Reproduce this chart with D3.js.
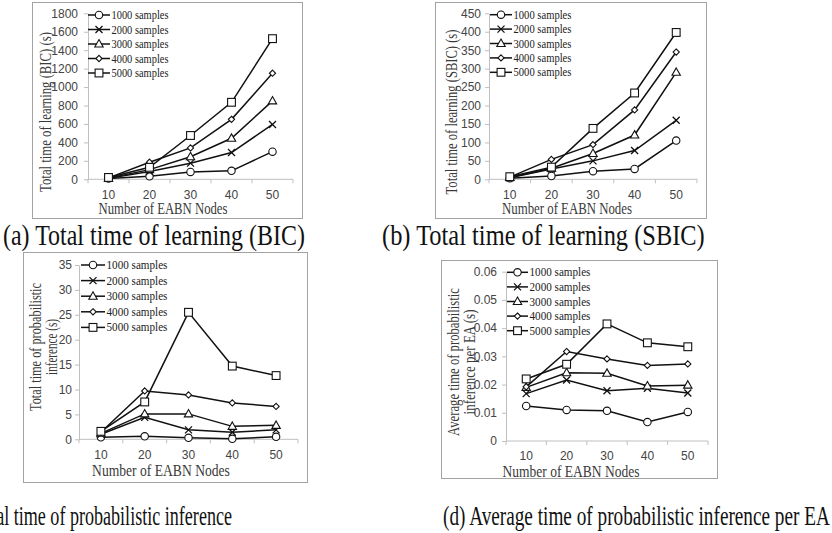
<!DOCTYPE html>
<html>
<head>
<meta charset="utf-8">
<script src="https://cdn.jsdelivr.net/npm/d3@7/dist/d3.min.js"></script>
<style>
  body { margin: 0; background: #fff; }
  svg { display: block; }
</style>
</head>
<body>
<svg id="fig" width="832" height="533"></svg>
<script>
// ---- data ----------------------------------------------------------------
const nodeCounts = [10, 20, 30, 40, 50];
const sampleLabels = ["1000 samples", "2000 samples", "3000 samples", "4000 samples", "5000 samples"];
const markerTypes = ["circle", "cross", "triangle", "diamond", "square"];

// (a) total learning time with BIC score, seconds (one row per sample size)
const bicLearning = [
  [8, 32, 80, 92, 300],
  [10, 85, 175, 290, 595],
  [12, 105, 245, 445, 850],
  [15, 185, 340, 650, 1150],
  [20, 130, 475, 835, 1525]
];
const bicTicks = [0, 200, 400, 600, 800, 1000, 1200, 1400, 1600, 1800];

// (b) total learning time with SBIC score, seconds
const sbicLearning = [
  [3, 9, 22, 28, 105],
  [4, 28, 50, 78, 160],
  [5, 30, 70, 120, 290],
  [6, 54, 94, 188, 345],
  [7, 33, 138, 234, 398]
];
const sbicTicks = [0, 50, 100, 150, 200, 250, 300, 350, 400, 450];

// (c) total probabilistic inference time, seconds
const inferenceTotal = [
  [0.4, 0.6, 0.3, 0.1, 0.5],
  [1.0, 4.4, 1.9, 1.4, 1.9],
  [1.2, 5.1, 5.1, 2.6, 2.8],
  [1.4, 9.7, 8.9, 7.3, 6.6],
  [1.6, 7.5, 25.5, 14.7, 12.8]
];
const inferenceTicks = [0, 5, 10, 15, 20, 25, 30, 35];

// (d) average probabilistic inference time per EA, seconds
const inferencePerEA = [
  [0.0124, 0.0110, 0.0107, 0.0067, 0.0103],
  [0.0168, 0.0216, 0.0178, 0.0187, 0.0170],
  [0.0190, 0.0242, 0.0240, 0.0195, 0.0198],
  [0.0192, 0.0317, 0.0291, 0.0268, 0.0273],
  [0.0220, 0.0272, 0.0415, 0.0348, 0.0334]
];
const perEATicks = [0, 0.01, 0.02, 0.03, 0.04, 0.05, 0.06];

const xTitle = "Number of EABN Nodes";

// ---- layout ----------------------------------------------------------------
const panels = [
  {
    values: bicLearning, ticks: bicTicks, fmt: d => String(d),
    frame: [32, 2, 302, 218], plotX: [88, 293], plotY: [179.3, 13.3],
    tickLabelY: 198.5, labelGap: 10,
    xTitle: { x: 163, y: 214, len: 129 },
    yTitle: { lines: ["Total time of learning (BIC) (s)"], bx: [50.5], cy: 112, len: [160] },
    legend: { x0: 88, x1: 110, tx: 111.5, y0: 15, dy: 14.5, len: 57 },
    caption: { text: "(a) Total time of learning (BIC)", x: 3, y: 245, len: 302, size: 29, anchor: "start" }
  },
  {
    values: sbicLearning, ticks: sbicTicks, fmt: d => String(d),
    frame: [435, 2, 706, 218], plotX: [489, 697], plotY: [179.3, 13.3],
    tickLabelY: 198.5, labelGap: 8,
    xTitle: { x: 567, y: 214, len: 130 },
    yTitle: { lines: ["Total time of learning (SBIC) (s)"], bx: [456.5], cy: 112, len: [165] },
    legend: { x0: 490, x1: 512, tx: 513.5, y0: 14.7, dy: 14.4, len: 58 },
    caption: { text: "(b) Total time of learning (SBIC)", x: 382, y: 245, len: 323, size: 29, anchor: "start" }
  },
  {
    values: inferenceTotal, ticks: inferenceTicks, fmt: d => String(d),
    frame: [23, 252, 307, 482], plotX: [79, 298], plotY: [439.3, 265],
    tickLabelY: 458.5, labelGap: 7,
    xTitle: { x: 161, y: 476, len: 138 },
    yTitle: { lines: ["Total time of probabilistic", "inference (s)"], bx: [40.5, 56.5], cy: 347, len: [128, 56] },
    legend: { x0: 81, x1: 105, tx: 106.5, y0: 265, dy: 15.6, len: 61 },
    caption: { text: "(c) Total time of probabilistic inference", x: 232, y: 525, len: 284, size: 27, anchor: "end" }
  },
  {
    values: inferencePerEA, ticks: perEATicks, fmt: d => (d === 0 ? "0" : d.toFixed(2)),
    frame: [441, 260, 717, 478], plotX: [506, 708], plotY: [441, 271.7],
    tickLabelY: 459.5, labelGap: 9,
    xTitle: { x: 571, y: 477, len: 137 },
    yTitle: { lines: ["Average time of probabilistic", "inference per EA (s)"], bx: [458.5, 474.5], cy: 362, len: [148, 105] },
    legend: { x0: 507, x1: 528, tx: 529.5, y0: 272.3, dy: 14.6, len: 61 },
    caption: { text: "(d) Average time of probabilistic inference per EA", x: 443, y: 525, len: 387, size: 27, anchor: "start" }
  }
];

const svg = d3.select("#fig");
const serif = "'Liberation Serif', 'Times New Roman', serif";
const sans = "'Liberation Sans', Arial, sans-serif";
const axisGrey = "#bfbfbf";
const lineInk = "#111";

// Places a text at (x, y), rotated by `angle`, squeezed horizontally so that
// its advance width equals `len`.
function narrowText(parent, str, x, y, len, opts) {
  const t = parent.append("text")
    .attr("font-family", opts.family).attr("font-size", opts.size)
    .attr("fill", opts.fill).attr("text-anchor", opts.anchor || "start")
    .text(str);
  const natural = t.node().getComputedTextLength();
  const k = natural > 0 ? len / natural : 1;
  t.attr("transform", `translate(${x},${y}) rotate(${opts.angle || 0}) scale(${k},1)`);
  return t;
}

function drawMarker(g, type, x, y) {
  const m = g.append("g").attr("transform", `translate(${x},${y})`)
    .attr("stroke", lineInk).attr("stroke-width", 1.1).attr("fill", "#fff");
  if (type === "circle") {
    m.append("circle").attr("r", 3.7);
  } else if (type === "cross") {
    m.append("path").attr("d", "M-3.5,-3.5L3.5,3.5M-3.5,3.5L3.5,-3.5").attr("stroke-width", 1.3);
  } else if (type === "triangle") {
    m.append("path").attr("d", "M0,-4.4L4.2,3L-4.2,3Z");
  } else if (type === "diamond") {
    m.append("path").attr("d", "M0,-3.1L3.1,0L0,3.1L-3.1,0Z");
  } else if (type === "square") {
    m.append("rect").attr("x", -3.9).attr("y", -3.9).attr("width", 7.8).attr("height", 7.8);
  }
}

panels.forEach(p => {
  const g = svg.append("g");
  const [fx0, fy0, fx1, fy1] = p.frame;

  // chart border
  g.append("rect")
    .attr("x", fx0 + 0.5).attr("y", fy0 + 0.5)
    .attr("width", fx1 - fx0).attr("height", fy1 - fy0)
    .attr("fill", "#fff").attr("stroke", "#a3a3a3").attr("stroke-width", 1);

  const band = d3.scaleBand().domain(nodeCounts).range(p.plotX).paddingInner(0).paddingOuter(0);
  const x = d3.scalePoint().domain(nodeCounts).range(p.plotX).padding(0.5);
  const y = d3.scaleLinear().domain([0, d3.max(p.ticks)]).range(p.plotY);

  // y axis
  const yAxis = g.append("g")
    .attr("transform", `translate(${p.plotX[0]},0)`)
    .call(d3.axisLeft(y).tickValues(p.ticks).tickFormat(p.fmt).tickSize(4).tickSizeOuter(0).tickPadding(p.labelGap - 4));
  yAxis.select(".domain").attr("stroke", axisGrey);
  yAxis.selectAll(".tick line").attr("stroke", axisGrey);
  yAxis.selectAll(".tick text").attr("font-family", sans).attr("font-size", 12).attr("fill", "#444");

  // x axis: line, boundary ticks, centred labels
  const x0 = p.plotY[0];
  g.append("line").attr("x1", p.plotX[0]).attr("x2", p.plotX[1])
    .attr("y1", x0).attr("y2", x0).attr("stroke", axisGrey);
  const edges = nodeCounts.map(d => band(d)).concat([band(nodeCounts[nodeCounts.length - 1]) + band.step()]);
  g.selectAll(null).data(edges).join("line")
    .attr("x1", d => d).attr("x2", d => d)
    .attr("y1", x0).attr("y2", x0 + 4).attr("stroke", axisGrey);
  g.selectAll(null).data(nodeCounts).join("text")
    .attr("x", d => x(d)).attr("y", p.tickLabelY)
    .attr("text-anchor", "middle")
    .attr("font-family", sans).attr("font-size", 12).attr("fill", "#444")
    .text(d => d);

  // axis titles
  narrowText(g, xTitle, p.xTitle.x, p.xTitle.y, p.xTitle.len,
    { family: serif, size: 17, fill: "#3a3a3a", anchor: "middle" });
  p.yTitle.lines.forEach((t, i) => {
    narrowText(g, t, p.yTitle.bx[i], p.yTitle.cy, p.yTitle.len[i],
      { family: serif, size: 16.5, fill: "#3a3a3a", anchor: "middle", angle: -90 });
  });

  // series lines and markers
  const line = d3.line().x((d, i) => x(nodeCounts[i])).y(d => y(d));
  p.values.forEach((vals, s) => {
    g.append("path").attr("d", line(vals))
      .attr("fill", "none").attr("stroke", lineInk).attr("stroke-width", 1.5);
    vals.forEach((v, i) => drawMarker(g, markerTypes[s], x(nodeCounts[i]), y(v)));
  });

  // legend
  const L = p.legend;
  sampleLabels.forEach((lab, s) => {
    const ly = L.y0 + s * L.dy;
    g.append("line").attr("x1", L.x0).attr("x2", L.x1).attr("y1", ly).attr("y2", ly)
      .attr("stroke", lineInk).attr("stroke-width", 1.5);
    drawMarker(g, markerTypes[s], (L.x0 + L.x1) / 2, ly);
    narrowText(g, lab, L.tx, ly + 4, L.len, { family: serif, size: 12.5, fill: "#222" });
  });

  // caption below the chart
  const C = p.caption;
  narrowText(svg, C.text, C.x, C.y, C.len,
    { family: serif, size: C.size, fill: "#111", anchor: C.anchor });
});
</script>
</body>
</html>
